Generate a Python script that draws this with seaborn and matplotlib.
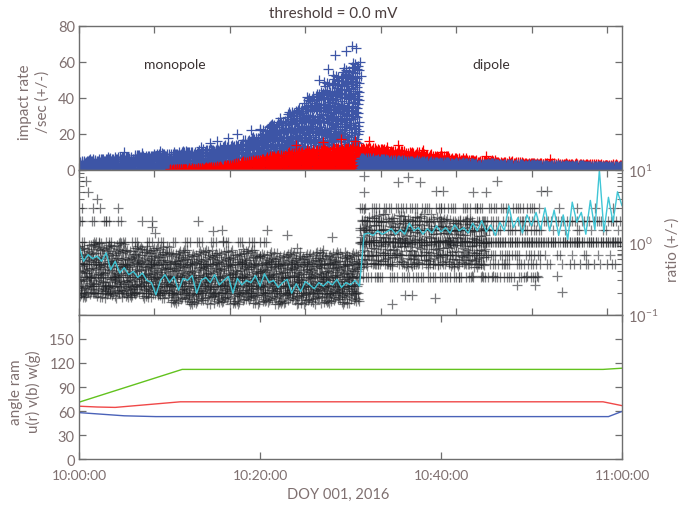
import numpy as np
import pandas as pd
import matplotlib
matplotlib.use("Agg")
import matplotlib.pyplot as plt
import seaborn as sns
from matplotlib.ticker import LogLocator, NullFormatter

sns.set_theme(style="white")
plt.rcParams['font.family'] = ['Lato', 'DejaVu Sans']

# ---------------- data (minutes after 10:00:00) ----------------
# top panel: per-minute upper edge of the "+" clouds (impact rate /sec)
blue_mono_min = list(range(0, 31))
blue_mono_hi = [5.5, 6, 6.5, 7, 7.5, 8, 8.5, 8.5, 9, 9.5, 10, 10.5, 11, 11.5, 12, 13,
                14, 15, 17, 19.5, 22.5, 26, 29.5, 33, 37, 41, 45, 49, 53, 57, 60]
red_mono_min = list(range(10, 31))
red_mono_hi = [0.5, 0.8, 1, 1.5, 2, 2.5, 3, 4, 5, 6, 7, 8, 9, 10, 10.5, 11, 11.5,
               12, 12.5, 13, 13]
dip_min = list(range(31, 60))
blue_dip_hi = [7, 6.5, 6.3, 6, 5.8, 5.5, 5.3, 5, 4.8, 4.6, 4.4, 4.2, 4, 3.9, 3.8,
               3.6, 3.5, 3.4, 3.3, 3.2, 3.1, 3, 2.9, 2.8, 2.7, 2.6, 2.5, 2.4, 2.3]
red_dip_hi = [13, 12.5, 12, 11.5, 11, 10.5, 10, 9, 8.5, 8, 7, 6.5, 6, 5.7, 5.4, 5,
              4.8, 4.6, 4.4, 4.2, 4, 3.9, 3.8, 3.7, 3.6, 3.5, 3.3, 3.2, 3.1]
# isolated "+" points (minute, rate)
blue_out_t = [5, 7, 9, 13.5, 14.5, 15.3, 16.5, 17.5, 19, 20, 21.2, 26.5, 27.5, 28.3,
              29.5, 30.2, 30.6, 31.1, 31.2]
blue_out_y = [10, 9.5, 10.5, 13, 15, 16, 18, 20, 22, 23, 25, 50, 56, 64, 66, 69, 68, 60, 52]
red_out_t = [24, 27, 29, 30.5, 32, 34, 35.2, 38, 40, 45, 52]
red_out_y = [14, 15.5, 17, 16, 16, 13, 14, 11, 10, 7.5, 6]

# middle panel: ratio (+/-); per-minute range of the continuous cloud ...
cloud_lo = [0.17] * 10 + [0.14] * 21 + [0.45] * 14 + [0.5] * 15
cloud_hi = [1.0] * 5 + [0.9] * 5 + [0.8] * 10 + [0.75] * 11 + [2.5] * 9 + [2.2] * 5 + \
           [2.2] * 15
cloud_n = [40] * 31 + [22] * 14 + [0] * 15
# ... and of the quantised ratio rows (small-count ratios)
row_lo = [0.2] * 31 + [0.33] * 20 + [0.5] * 9
row_hi = [2.0] * 5 + [1.0] * 16 + [0.5] * 10 + [3.0] * 20 + [2.0] * 9
rows_mono = [0.2, 0.25, 0.33, 0.5, 1.0, 2.0]
rows_dip = [0.33, 0.5, 0.67, 1.0, 1.5, 2.0, 3.0]
ratio_out_t = [1.0, 2.0, 0.3, 2.3, 4.3, 7.0, 8.1, 13.1, 8.1, 8.4, 15.8, 14.8, 20.8, 23,
               20, 24.1, 28, 27, 29.6, 15.9, 18.1, 1.5, 0.8,
               31.5, 31.5, 31.5, 35.2, 37.7, 39.5, 40.2, 46.2, 36.4, 34.6, 36, 36.8,
               39.3, 48.4, 50.4, 53.4, 49.5, 50.6, 52.8, 43.4, 44.5, 45.7, 54.2, 55.4,
               56.9, 58.3, 43.5, 45, 51, 51.7, 53, 55, 57, 59, 41, 43, 47.5]
ratio_out_y = [5, 4, 3, 3, 3, 2, 2, 2, 1.65, 1.35, 1.5, 1.45, 1.5, 1.25, 1.0, 0.83,
               1.2, 0.78, 0.67, 1.05, 0.82, 3, 7,
               8.3, 5, 2.9, 6.9, 6.9, 5.2, 5.2, 7, 8, 0.14, 0.19, 0.19, 0.17, 0.26,
               0.26, 0.21, 0.34, 0.34, 0.34, 0.34, 0.34, 0.34, 0.5, 0.5, 0.5, 0.5,
               5, 5, 5.2, 5.2, 3, 3, 3, 3, 0.33, 0.67, 0.67]
# smoothed ratio (cyan), every 30 s
cyan_ratio = [0.9, 0.55, 0.68, 0.6, 0.65, 0.55, 0.72, 0.42, 0.55, 0.38, 0.45, 0.36,
              0.4, 0.33, 0.38, 0.3, 0.28, 0.19, 0.3, 0.36, 0.28, 0.34, 0.22, 0.32,
              0.3, 0.35, 0.2, 0.3, 0.33, 0.28, 0.36, 0.26, 0.3, 0.34, 0.2, 0.32,
              0.26, 0.3, 0.28, 0.35, 0.25, 0.37, 0.28, 0.3, 0.24, 0.28, 0.31, 0.2,
              0.27, 0.21, 0.29, 0.26, 0.23, 0.28, 0.25, 0.29, 0.26, 0.31, 0.24, 0.28,
              0.26, 0.3, 0.25, 1.3, 1.35, 1.25, 1.45, 1.3, 1.4, 1.55, 1.3, 1.5, 1.3,
              1.85, 1.45, 1.6, 1.3, 1.55, 1.35, 1.7, 1.4, 1.6, 1.35, 1.75, 1.45, 1.6,
              1.35, 1.85, 1.45, 2.0, 1.4, 1.75, 1.25, 1.9, 1.45, 3.2, 1.6, 2.2, 1.35, 2.4,
              1.7, 2.6, 1.5, 3.0, 1.45, 2.8, 1.25, 2.4, 1.1, 3.6, 1.9, 2.6, 1.3, 3.8,
              1.5, 10.0, 1.4, 4.2, 1.9, 5.0, 3.2]
cyan_t = [i * 0.5 for i in range(len(cyan_ratio))]

# bottom panel: ram angles (deg)
ang_u_t = [0, 2, 4, 11.2, 57.9, 60]
ang_u = [66, 65, 64.5, 71.5, 71.5, 66.7]
ang_v_t = [0, 5, 8.5, 56.5, 58.5, 60]
ang_v = [58, 54, 53, 53, 53, 59.5]
ang_w_t = [0, 11.4, 57.9, 60]
ang_w = [71, 112, 112, 113.5]

# ---------------- layout helpers (spread marks evenly inside a cell) ----------------
A1, A2 = 0.7548776662, 0.5698402910


def spread(n, seed):
    p = np.arange(n) + seed
    return (p * A1 + 0.5) % 1.0, (p * A2 + 0.5) % 1.0


def cloud(mins, his, base, per):
    xs, ys = [], []
    for m, h in zip(mins, his):
        n = int(base + per * h)
        fx, fy = spread(n, m * 37)
        xs.extend(m + fx)
        ys.extend(h * fy)
    return pd.DataFrame({"t": xs, "v": ys})


def ratio_cloud():
    xs, ys = [], []
    for m in range(60):
        n = cloud_n[m]
        if n:
            fx, fy = spread(n, m * 53)
            l0, l1 = np.log10(cloud_lo[m]), np.log10(cloud_hi[m])
            xs.extend(m + fx)
            ys.extend(10 ** (l0 + (l1 - l0) * fy))
        rows = rows_mono if m < 31 else rows_dip
        for j, lv in enumerate(rows):
            if row_lo[m] <= lv <= row_hi[m]:
                if m < 31:
                    k = 2
                elif lv == 1.0:
                    k = 7
                elif m >= 51:
                    k = 1 if lv != 2.0 else 3
                else:
                    k = 3
                fx, _ = spread(k, m * 11 + j * 5)
                xs.extend(m + fx)
                ys.extend([lv] * k)
    return pd.DataFrame({"t": xs, "v": ys})


BLUE = "#3d55a6"
RED = "#ff0000"
BLACK = "#202226"
CYAN = "#40c6d6"
SPINE = "#6e6e6e"
TXT = "#7f7070"

fig = plt.figure(figsize=(6.81, 5.06), dpi=100)
ax1 = fig.add_axes([0.116, 0.6621, 0.7974, 0.2846])
ax2 = fig.add_axes([0.116, 0.3755, 0.7974, 0.2866])
ax3 = fig.add_axes([0.116, 0.0909, 0.7974, 0.2846])

sc = dict(marker="+", s=42, linewidth=0.9, legend=False)

# ---- top panel
sns.scatterplot(data=cloud(blue_mono_min, blue_mono_hi, 30, 0.9), x="t", y="v", color=BLUE, ax=ax1, **sc)
sns.scatterplot(x=blue_out_t, y=blue_out_y, color=BLUE, ax=ax1, **sc)
sns.scatterplot(data=cloud(red_mono_min, red_mono_hi, 12, 2.5), x="t", y="v", color=RED, ax=ax1, **sc)
sns.scatterplot(x=red_out_t, y=red_out_y, color=RED, ax=ax1, **sc)
sns.scatterplot(data=cloud(dip_min, red_dip_hi, 25, 2), x="t", y="v", color=RED, ax=ax1, **sc)
sns.scatterplot(data=cloud(dip_min, blue_dip_hi, 30, 2), x="t", y="v", color=BLUE, ax=ax1, **sc)
ax1.set_xlim(0, 60)
ax1.set_ylim(0, 80)
ax1.set_yticks([0, 20, 40, 60, 80])
ax1.text(10.6, 59, "monopole", ha="center", va="center", fontsize=10, color="#3a3232")
ax1.text(45.6, 59, "dipole", ha="center", va="center", fontsize=10, color="#3a3232")

# ---- middle panel
sns.scatterplot(data=ratio_cloud(), x="t", y="v", color=BLACK, alpha=0.55, ax=ax2, **sc)
sns.scatterplot(x=ratio_out_t, y=ratio_out_y, color=BLACK, alpha=0.6, ax=ax2, **sc)
sns.lineplot(x=cyan_t, y=cyan_ratio, color=CYAN, linewidth=1.0, ax=ax2)
ax2.set_yscale("log")
ax2.set_xlim(0, 60)
ax2.set_ylim(0.1, 10)

# ---- bottom panel
sns.lineplot(x=ang_w_t, y=ang_w, color="#62c21e", linewidth=1.0, ax=ax3)
sns.lineplot(x=ang_u_t, y=ang_u, color="#f04848", linewidth=1.0, ax=ax3)
sns.lineplot(x=ang_v_t, y=ang_v, color="#4a62b8", linewidth=1.0, ax=ax3)
ax3.set_xlim(0, 60)
ax3.set_ylim(0, 180)
ax3.set_yticks([0, 30, 60, 90, 120, 150])
ax3.set_xticks([0, 20, 40, 60])
ax3.set_xticklabels(["10:00:00", "10:20:00", "10:40:00", "11:00:00"])

# ---- common styling
fine_ticks = [i * 500 / 60 for i in range(8)]
for ax in (ax1, ax2, ax3):
    ax.set_xlabel("")
    ax.set_ylabel("")
    for s in ax.spines.values():
        s.set_color(SPINE)
        s.set_linewidth(1.0)
        s.set_zorder(5)
    ax.tick_params(which="both", direction="in", top=True, bottom=True, left=True,
                   right=True, color=SPINE, labelcolor=TXT, labelsize=10)
    ax.tick_params(which="major", length=5, width=0.9)
    ax.tick_params(which="minor", length=3.5, width=0.8)
for ax in (ax1, ax2):
    ax.set_xticks(fine_ticks)
    ax.tick_params(axis="x", labelbottom=False)
ax1.tick_params(axis="y", pad=3, labelsize=10.5)
ax3.tick_params(axis="y", pad=3, labelsize=10.5)
ax3.tick_params(axis="x", pad=7)

ax2.yaxis.set_major_locator(LogLocator(base=10, numticks=5))
ax2.yaxis.set_minor_locator(LogLocator(base=10, subs=np.arange(2, 10), numticks=20))
ax2.yaxis.set_minor_formatter(NullFormatter())
ax2.tick_params(axis="y", which="both", labelleft=False, labelright=True, pad=4,
                labelsize=10.5)

fig.text(333 / 681, 1 - 14 / 506, "threshold = 0.0 mV", ha="center", va="center",
         fontsize=11, color="#4a3d3d")
fig.text(34 / 681, 1 - 102 / 506, "impact rate\n/sec (+/-)", ha="center", va="center",
         rotation=90, fontsize=11, color=TXT, linespacing=1.25)
fig.text(25 / 681, 1 - 392 / 506, "angle ram\nu(r) v(b) w(g)", ha="center", va="center",
         rotation=90, fontsize=11, color=TXT, linespacing=1.25)
fig.text(673 / 681, 1 - 250 / 506, "ratio (+/-)", ha="center", va="center",
         rotation=90, fontsize=11, color=TXT)
fig.text(338 / 681, 1 - 495 / 506, "DOY 001, 2016", ha="center", va="center",
         fontsize=10.5, color=TXT)

fig.savefig("out.png", dpi=100, facecolor="white")
